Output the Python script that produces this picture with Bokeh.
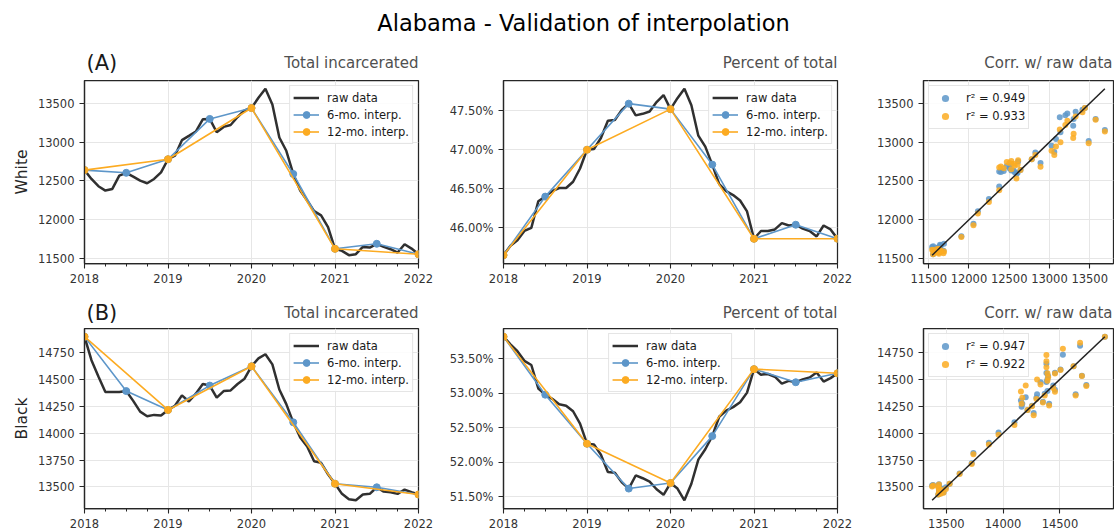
from bokeh.plotting import figure
from bokeh.layouts import column, row
from bokeh.models import (Range1d, FixedTicker, PrintfTickFormatter, Label,
                          Legend, LegendItem)
from bokeh.embed import file_html
from bokeh.resources import INLINE

FONT = "DejaVu Sans"

# ---------------- data ----------------
suptitle = "Alabama - Validation of interpolation"
row_names = ["White", "Black"]
panel_tags = ["(A)", "(B)"]
col_titles = ["Total incarcerated", "Percent of total", "Corr. w/ raw data"]
legend_labels = ["raw data", "6-mo. interp.", "12-mo. interp."]

# month index 0 = Jan 2018 ... 48 = Jan 2022
months = list(range(49))
knot6_months = [0, 6, 12, 18, 24, 30, 36, 42, 48]
knot12_months = [0, 12, 24, 36, 48]
year_ticks = [2018, 2019, 2020, 2021, 2022]
quarter_ticks = [2018.25, 2018.5, 2018.75, 2019.25, 2019.5, 2019.75, 2020.25, 2020.5,
                 2020.75, 2021.25, 2021.5, 2021.75]

white_total_raw = [12640, 12526, 12432, 12376, 12397, 12568, 12605, 12556, 12504, 12470,
                   12526, 12611, 12780, 12825, 13026, 13081, 13137, 13295, 13300, 13128,
                   13197, 13222, 13325, 13410, 13440, 13573, 13688, 13487, 13060, 12889,
                   12590, 12376, 12248, 12111, 12056, 11906, 11625, 11598, 11543, 11556,
                   11650, 11641, 11690, 11650, 11620, 11577, 11684, 11628, 11555]
white_total_6mo = [12640, 12605, 12780, 13300, 13440, 12590, 11625, 11690, 11555]
white_total_12mo = [12640, 12780, 13440, 11625, 11555]

white_pct_raw = [45.65, 45.77, 45.84, 45.96, 46.00, 46.34, 46.40, 46.47, 46.51, 46.51,
                 46.59, 46.76, 47.00, 47.01, 47.15, 47.37, 47.38, 47.51, 47.59, 47.44,
                 47.46, 47.49, 47.61, 47.70, 47.52, 47.66, 47.78, 47.57, 47.18, 47.04,
                 46.81, 46.56, 46.47, 46.42, 46.35, 46.21, 45.86, 45.96, 45.96, 45.98,
                 46.06, 46.03, 46.04, 45.99, 45.96, 45.89, 46.03, 45.98, 45.86]
white_pct_6mo = [45.65, 46.40, 47.00, 47.59, 47.52, 46.81, 45.86, 46.04, 45.86]
white_pct_12mo = [45.65, 47.00, 47.52, 45.86, 45.86]

black_total_raw = [14895, 14677, 14526, 14381, 14381, 14381, 14390, 14299, 14199, 14157,
                   14169, 14163, 14215, 14254, 14350, 14293, 14366, 14456, 14441, 14329,
                   14390, 14396, 14456, 14505, 14620, 14693, 14732, 14638, 14405, 14269,
                   14100, 13960, 13875, 13739, 13724, 13618, 13530, 13436, 13385, 13376,
                   13430, 13436, 13497, 13457, 13451, 13436, 13476, 13451, 13430]
black_total_6mo = [14895, 14390, 14215, 14441, 14620, 14100, 13530, 13497, 13430]
black_total_12mo = [14895, 14215, 14620, 13530, 13430]

black_pct_raw = [53.82, 53.71, 53.61, 53.47, 53.41, 53.07, 52.98, 52.92, 52.84, 52.82,
                 52.74, 52.56, 52.27, 52.26, 52.11, 51.86, 51.85, 51.71, 51.62, 51.81,
                 51.77, 51.72, 51.61, 51.53, 51.70, 51.62, 51.45, 51.69, 52.04, 52.19,
                 52.38, 52.66, 52.75, 52.80, 52.87, 53.01, 53.35, 53.27, 53.28, 53.24,
                 53.14, 53.18, 53.16, 53.20, 53.23, 53.30, 53.17, 53.22, 53.29]
black_pct_6mo = [53.82, 52.98, 52.27, 51.62, 51.70, 52.38, 53.35, 53.16, 53.29]
black_pct_12mo = [53.82, 52.27, 51.70, 53.35, 53.29]

# monthly interpolated values (y of the correlation scatter)
white_interp_6mo = [12640, 12634, 12628, 12622, 12617, 12611, 12605, 12634, 12663, 12693,
                    12722, 12751, 12780, 12867, 12953, 13040, 13127, 13213, 13300, 13323,
                    13347, 13370, 13393, 13417, 13440, 13298, 13157, 13015, 12873, 12732,
                    12590, 12429, 12268, 12108, 11947, 11786, 11625, 11636, 11647, 11658,
                    11668, 11679, 11690, 11668, 11645, 11623, 11600, 11578, 11555]
white_interp_12mo = [12640, 12652, 12663, 12675, 12687, 12698, 12710, 12722, 12733, 12745,
                     12757, 12768, 12780, 12835, 12890, 12945, 13000, 13055, 13110, 13165,
                     13220, 13275, 13330, 13385, 13440, 13289, 13138, 12986, 12835, 12684,
                     12533, 12381, 12230, 12079, 11928, 11776, 11625, 11619, 11613, 11608,
                     11602, 11596, 11590, 11584, 11578, 11573, 11567, 11561, 11555]
black_interp_6mo = [14895, 14811, 14727, 14643, 14558, 14474, 14390, 14361, 14332, 14303,
                    14273, 14244, 14215, 14253, 14290, 14328, 14366, 14403, 14441, 14471,
                    14501, 14531, 14560, 14590, 14620, 14533, 14447, 14360, 14273, 14187,
                    14100, 14005, 13910, 13815, 13720, 13625, 13530, 13525, 13519, 13514,
                    13508, 13503, 13497, 13486, 13475, 13464, 13452, 13441, 13430]
black_interp_12mo = [14895, 14838, 14782, 14725, 14668, 14612, 14555, 14498, 14442, 14385,
                     14328, 14272, 14215, 14249, 14283, 14316, 14350, 14384, 14418, 14451,
                     14485, 14519, 14553, 14586, 14620, 14529, 14438, 14348, 14257, 14166,
                     14075, 13984, 13893, 13803, 13712, 13621, 13530, 13522, 13513, 13505,
                     13497, 13488, 13480, 13472, 13463, 13455, 13447, 13438, 13430]

r2_white = [0.949, 0.933]
r2_black = [0.947, 0.922]

white_total_ticks = [11500, 12000, 12500, 13000, 13500]
white_pct_ticks = [46.0, 46.5, 47.0, 47.5]
black_total_ticks = [13500, 13750, 14000, 14250, 14500, 14750]
black_pct_ticks = [51.5, 52.0, 52.5, 53.0, 53.5]
white_corr_xticks = [11500, 12000, 12500, 13000, 13500]
black_corr_xticks = [13500, 14000, 14500]

# ---------------- style ----------------
RAW = "#303030"
BLUE = "#5d96c9"
ORANGE = "#fcab22"
FRAME = "#262626"
TICKTXT = "#333333"
W = 1114


def to_year(ms):
    return [2018 + m / 12 for m in ms]


def padded(vals, frac=0.05):
    lo, hi = min(vals), max(vals)
    pad = (hi - lo) * frac
    return lo - pad, hi + pad


def base_fig(width, height, left, right, top, bottom, xr, yr):
    p = figure(width=width, height=height, x_range=xr, y_range=yr,
               output_backend="svg", toolbar_location=None, title=None,
               min_border_left=left, min_border_right=right,
               min_border_top=top, min_border_bottom=bottom)
    p.outline_line_color = FRAME
    p.outline_line_width = 1.25
    for ax in (p.xaxis[0], p.yaxis[0]):
        ax.axis_line_color = FRAME
        ax.axis_line_width = 1.25
        ax.major_tick_line_color = FRAME
        ax.major_tick_line_width = 1.1
        ax.major_tick_out = 5
        ax.major_tick_in = 0
        ax.minor_tick_line_color = None
        ax.major_label_text_font = FONT
        ax.major_label_text_font_size = "11.5px"
        ax.major_label_text_color = TICKTXT
        ax.major_label_standoff = 5
    p.grid.grid_line_color = "#e6e6e6"
    p.grid.grid_line_width = 1
    return p


def style_legend(items, loc, gh=17):
    return Legend(items=items, location=loc, label_text_font=FONT,
                  label_text_font_size="11.5px", label_text_color="#1a1a1a",
                  glyph_width=26, glyph_height=gh, label_height=gh, label_standoff=8,
                  spacing=0, padding=3, margin=5, border_line_color="#cccccc",
                  border_line_width=1, background_fill_color="white",
                  background_fill_alpha=0.85)


def line_panel(width, height, left, right, top, bottom, raw, k6, k12, yticks,
               pct, legend_loc, ylabel=None):
    xr = Range1d(2018, 2022)
    lo, hi = padded(raw + k6 + k12)
    yr = Range1d(lo, hi)
    p = base_fig(width, height, left, right, top, bottom, xr, yr)
    xt = FixedTicker(ticks=year_ticks, minor_ticks=quarter_ticks)
    p.xaxis.ticker = xt
    p.xgrid.ticker = xt
    p.xaxis.formatter = PrintfTickFormatter(format="%d")
    p.xaxis.minor_tick_line_color = FRAME
    p.xaxis.minor_tick_out = 3
    p.xaxis.minor_tick_in = 0
    yt = FixedTicker(ticks=yticks)
    p.yaxis.ticker = yt
    p.ygrid.ticker = yt
    p.yaxis.formatter = PrintfTickFormatter(format="%.2f%%" if pct else "%d")
    if ylabel:
        p.yaxis.axis_label = ylabel
        p.yaxis.axis_label_text_font = FONT
        p.yaxis.axis_label_text_font_size = "15.5px"
        p.yaxis.axis_label_text_font_style = "normal"
        p.yaxis.axis_label_text_color = FRAME
        p.yaxis.axis_label_standoff = 4

    r_raw = p.line(to_year(months), raw, color=RAW, line_width=2.5)
    x6 = to_year(knot6_months)
    l6 = p.line(x6, k6, color=BLUE, line_width=1.6)
    s6 = p.scatter(x6, k6, size=7, color=BLUE)
    x12 = to_year(knot12_months)
    l12 = p.line(x12, k12, color=ORANGE, line_width=1.6)
    s12 = p.scatter(x12, k12, size=7, color=ORANGE)
    p.add_layout(style_legend([
        LegendItem(label=legend_labels[0], renderers=[r_raw]),
        LegendItem(label=legend_labels[1], renderers=[l6, s6]),
        LegendItem(label=legend_labels[2], renderers=[l12, s12]),
    ], legend_loc))
    return p


def corr_panel(width, height, left, right, top, bottom, raw, i6, i12, r2, xticks,
               yticks, yrange_vals):
    x0, x1 = padded(raw)
    xr = Range1d(x0, x1)
    lo, hi = padded(yrange_vals)
    yr = Range1d(lo, hi)
    p = base_fig(width, height, left, right, top, bottom, xr, yr)
    xt = FixedTicker(ticks=xticks)
    p.xaxis.ticker = xt
    p.xgrid.ticker = xt
    p.xaxis.formatter = PrintfTickFormatter(format="%d")
    yt = FixedTicker(ticks=yticks)
    p.yaxis.ticker = yt
    p.ygrid.ticker = yt
    p.yaxis.formatter = PrintfTickFormatter(format="%d")
    a = p.scatter(raw, i6, size=6, color=BLUE, alpha=0.85, line_color=None)
    b = p.scatter(raw, i12, size=6, color=ORANGE, alpha=0.85, line_color=None)
    rmin, rmax = min(raw), max(raw)
    p.line([rmin, rmax], [rmin, rmax], color="#222222", line_width=1.5)
    p.add_layout(style_legend([
        LegendItem(label="r\u00b2 = %.3f" % r2[0], renderers=[a]),
        LegendItem(label="r\u00b2 = %.3f" % r2[1], renderers=[b]),
    ], "top_left", gh=18))
    return p


def strip(height):
    s = figure(width=W, height=height, x_range=Range1d(0, W), y_range=Range1d(0, height),
               output_backend="svg", toolbar_location=None, title=None, min_border=0,
               x_axis_location=None, y_axis_location=None)
    s.grid.visible = False
    s.outline_line_color = None
    return s


def headers(s, y, tag):
    s.add_layout(Label(x=86, y=y, text=tag, text_font=FONT, text_font_size="21px",
                       text_color="#1a1a1a", text_baseline="alphabetic",
                       text_align="left"))
    for xpos, txt in zip([418, 837, 1112], col_titles):
        s.add_layout(Label(x=xpos, y=y, text=txt, text_font=FONT, text_font_size="15px",
                           text_color="#505050", text_baseline="alphabetic",
                           text_align="right"))


# ---------------- layout ----------------
SA = 78
top_strip = strip(SA)
top_strip.add_layout(Label(x=583, y=SA - 22, text=suptitle, text_align="center",
                           text_baseline="alphabetic", text_font=FONT,
                           text_font_size="22.5px", text_color="#000000"))
headers(top_strip, SA - 62.5, panel_tags[0])

SB = 38
mid_strip = strip(SB)
headers(mid_strip, SB - 24, panel_tags[1])

H1, T1, B1 = 210, 2, 25
H2, T2, B2 = 206, 2, 24

p1 = line_panel(440, H1, 84, 22, T1, B1, white_total_raw, white_total_6mo,
                white_total_12mo, white_total_ticks, False, "top_right",
                ylabel=row_names[0])
p2 = line_panel(418, H1, 63, 21, T1, B1, white_pct_raw, white_pct_6mo, white_pct_12mo,
                white_pct_ticks, True, "top_right")
p3 = corr_panel(256, H1, 65, 1, T1, B1, white_total_raw, white_interp_6mo,
                white_interp_12mo, r2_white, white_corr_xticks, white_total_ticks,
                white_total_raw + white_total_6mo)

p4 = line_panel(440, H2, 84, 22, T2, B2, black_total_raw, black_total_6mo,
                black_total_12mo, black_total_ticks, False, "top_right",
                ylabel=row_names[1])
p5 = line_panel(418, H2, 63, 21, T2, B2, black_pct_raw, black_pct_6mo, black_pct_12mo,
                black_pct_ticks, True, "top_center")
p6 = corr_panel(256, H2, 65, 1, T2, B2, black_total_raw, black_interp_6mo,
                black_interp_12mo, r2_black, black_corr_xticks, black_total_ticks,
                black_total_raw + black_total_6mo)

layout = column(top_strip, row(p1, p2, p3), mid_strip, row(p4, p5, p6))

open("out.html", "w").write(file_html(layout, INLINE))
